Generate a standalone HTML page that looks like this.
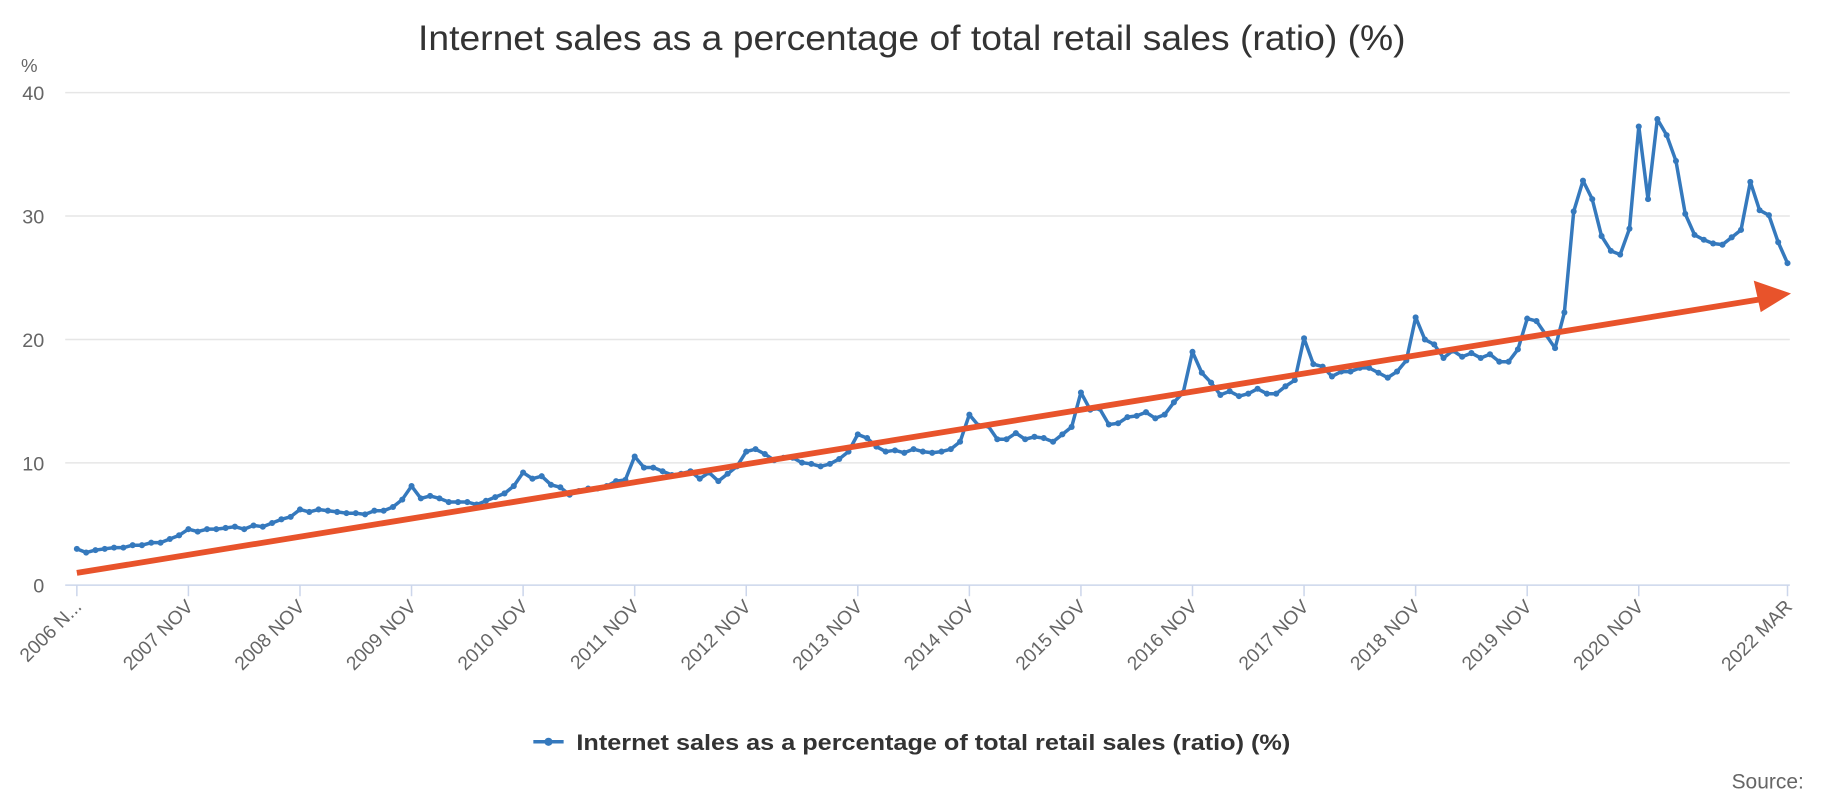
<!DOCTYPE html>
<html><head><meta charset="utf-8"><style>
html,body{margin:0;padding:0;background:#fff;}
svg{display:block;font-family:"Liberation Sans",sans-serif;}
</style></head><body>
<svg width="1826" height="802" xmlns="http://www.w3.org/2000/svg">
<rect width="1826" height="802" fill="#fff"/>
<g transform="scale(1.1645)">
<text x="359" y="43" font-size="30" fill="#333" textLength="848" lengthAdjust="spacingAndGlyphs">Internet sales as a percentage of total retail sales (ratio) (%)</text>
<text x="18" y="62" font-size="16" fill="#666">%</text>
<g stroke="#e6e6e6" stroke-width="1.3">
<line x1="56" x2="1537" y1="79.5" y2="79.5"/>
<line x1="56" x2="1537" y1="185.5" y2="185.5"/>
<line x1="56" x2="1537" y1="291.5" y2="291.5"/>
<line x1="56" x2="1537" y1="397.5" y2="397.5"/>
</g>
<line x1="56" x2="1537" y1="502.5" y2="502.5" stroke="#ccd6eb" stroke-width="1.3"/>
<g font-size="17" fill="#666" text-anchor="end">
<text x="38" y="86">40</text><text x="38" y="192">30</text><text x="38" y="298">20</text><text x="38" y="404">10</text><text x="38" y="509">0</text>
</g>
<g id="ticks"></g>
<g id="labels" font-size="16.5" fill="#666" text-anchor="end"></g>
<polyline id="ln" fill="none" stroke="#3579bd" stroke-width="3" stroke-linejoin="round"/>
<g id="dots" fill="#3579bd"></g>
<line x1="66" y1="492" x2="1512" y2="257" stroke="#e8532b" stroke-width="5"/>
<polygon points="1538,252 1506,241 1512,268" fill="#e8532b"/>
<line x1="458" x2="484" y1="637" y2="637" stroke="#3579bd" stroke-width="3"/>
<circle cx="471" cy="637" r="3.5" fill="#3579bd"/>
<text x="495" y="644" font-size="19" font-weight="bold" fill="#333" textLength="613" lengthAdjust="spacingAndGlyphs">Internet sales as a percentage of total retail sales (ratio) (%)</text>
<text x="1549" y="677" font-size="18" fill="#666" text-anchor="end">Source:</text>
</g>
</svg>
<script>
var v=[2.9,2.6,2.8,2.9,3.0,3.0,3.2,3.2,3.4,3.4,3.7,4.0,
4.5,4.3,4.5,4.5,4.6,4.7,4.5,4.8,4.7,5.0,5.3,5.5,
6.1,5.9,6.1,6.0,5.9,5.8,5.8,5.7,6.0,6.0,6.3,6.9,
8.0,7.0,7.2,7.0,6.7,6.7,6.7,6.5,6.8,7.1,7.4,8.0,
9.1,8.6,8.8,8.1,7.9,7.3,7.6,7.8,7.8,8.0,8.4,8.5,
10.4,9.5,9.5,9.2,8.9,9.0,9.2,8.6,9.1,8.4,9.0,9.6,
10.8,11.0,10.6,10.1,10.3,10.3,9.9,9.8,9.6,9.8,10.2,10.8,
12.2,11.9,11.2,10.8,10.9,10.7,11.0,10.8,10.7,10.8,11.0,11.6,
13.8,12.9,12.9,11.8,11.8,12.3,11.8,12.0,11.9,11.6,12.2,12.8,
15.6,14.2,14.3,13.0,13.1,13.6,13.7,14.0,13.5,13.8,14.8,15.6,
18.9,17.2,16.4,15.4,15.7,15.3,15.5,15.9,15.5,15.5,16.1,16.6,
20.0,17.9,17.7,16.9,17.3,17.3,17.6,17.6,17.2,16.8,17.3,18.2,
21.7,19.9,19.5,18.4,19.0,18.5,18.8,18.4,18.7,18.1,18.1,19.1,
21.6,21.4,20.3,19.2,22.1,30.3,32.8,31.3,28.3,27.1,26.8,28.9,
37.2,31.3,37.8,36.5,34.4,30.1,28.4,28.0,27.7,27.6,28.2,28.8,
32.7,30.4,30.0,27.8,26.1];
var ns="http://www.w3.org/2000/svg",pts=[],d=document.getElementById("dots");
for(var i=0;i<v.length;i++){var x=66+i*(1469/184),y=502-v[i]*10.575;pts.push(x.toFixed(1)+","+y.toFixed(1));
var c=document.createElementNS(ns,"circle");c.setAttribute("cx",x);c.setAttribute("cy",y);c.setAttribute("r",2.6);d.appendChild(c);}
document.getElementById("ln").setAttribute("points",pts.join(" "));
var t=document.getElementById("ticks"),L=document.getElementById("labels");
function tick(x,lab){var l=document.createElementNS(ns,"line");l.setAttribute("x1",x);l.setAttribute("x2",x);l.setAttribute("y1",502);l.setAttribute("y2",512);l.setAttribute("stroke","#ccd6eb");l.setAttribute("stroke-width",1.3);t.appendChild(l);
var tx=document.createElementNS(ns,"text");tx.setAttribute("x",x+5);tx.setAttribute("y",522);tx.setAttribute("transform","rotate(-45 "+(x+5)+" 522)");tx.textContent=lab;L.appendChild(tx);}
tick(66,"2006 N...");
for(var k=1;k<=14;k++)tick(66+k*12*(1469/184),(2006+k)+" NOV");
tick(1535,"2022 MAR");
</script>
</body></html>
